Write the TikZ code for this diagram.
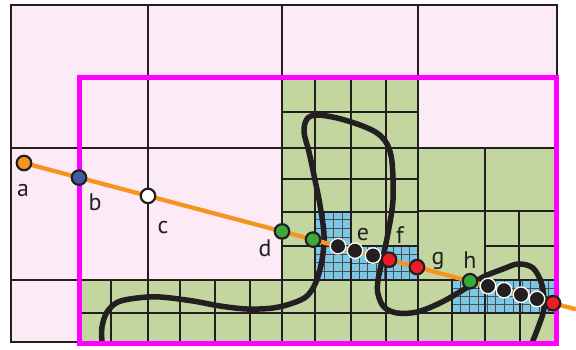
\documentclass[tikz,border=0pt]{standalone}
\usepackage{fontspec}
\setmainfont{PT Sans}
\definecolor{pinkc}{HTML}{FCEBF7}
\definecolor{greenc}{HTML}{C3D69F}
\definecolor{bluec}{HTML}{7CC8E4}
\definecolor{ink}{HTML}{231F20}
\definecolor{rayc}{HTML}{F7941D}
\definecolor{ptblue}{HTML}{3C5BA8}
\definecolor{ptgreen}{HTML}{3AAA3A}
\definecolor{ptred}{HTML}{ED1C24}
\definecolor{mag}{HTML}{FF00FF}
\begin{document}
\begin{tikzpicture}[x=1bp,y=-1bp,
  gridline/.style={draw=ink,line width=2.6bp},
  fineline/.style={draw=ink!80,line width=0.7bp},
  pt/.style={circle,draw=ink,line width=2.2bp,minimum size=14.5bp,inner sep=0pt},
  blackpt/.style={circle,fill=ink,draw=white,line width=1.3bp,minimum size=15.5bp,inner sep=0pt},
  lbl/.style={font=\fontsize{24}{24}\selectfont,text=ink,inner sep=0pt,anchor=base}]
\useasboundingbox (0,0) rectangle (576,349);
% fills
\fill[pinkc] (11,5) rectangle (557,342);
\fill[greenc] (282,77) rectangle (418,148);
\fill[greenc] (282,148) rectangle (557,280);
\fill[greenc] (79,280) rectangle (557,342);
\fill[bluec] (315,211) rectangle (351,280);
\fill[bluec] (351,246) rectangle (418,280);
\fill[bluec] (452,280) rectangle (557,313);
% fine grids
\foreach \i in {1,...,3} \draw[fineline] ({315+\i*9},211) -- ({315+\i*9},280);
\foreach \j in {1,...,7} \draw[fineline] (315,{211+\j*8.625}) -- (351,{211+\j*8.625});
\foreach \i in {1,...,7} \draw[fineline] ({351+\i*8.375},246) -- ({351+\i*8.375},280);
\foreach \j in {1,...,3} \draw[fineline] (351,{246+\j*8.5}) -- (418,{246+\j*8.5});
\foreach \i in {1,...,11} \draw[fineline] ({452+\i*8.75},280) -- ({452+\i*8.75},313);
\foreach \j in {1,...,3} \draw[fineline] (452,{280+\j*8.25}) -- (557,{280+\j*8.25});
% main grid
\draw[gridline] (11,5) rectangle (557,342);
\foreach \x in {148,282,418} \draw[gridline] (\x,5) -- (\x,342);
\foreach \y in {148,280} \draw[gridline] (11,\y) -- (557,\y);
\foreach \x in {315,351,386} \draw[gridline] (\x,75) -- (\x,280);
\foreach \y in {112,179,212,246} \draw[gridline] (282,\y) -- (418,\y);
\draw[gridline] (485,148) -- (485,280);
\draw[gridline] (418,211) -- (557,211);
\draw[gridline] (519,211) -- (519,280);
\draw[gridline] (485,246) -- (557,246);
\foreach \x in {111,180,215,250,315,351,386,452,485,520} \draw[gridline] (\x,280) -- (\x,342);
\draw[gridline] (79,313) -- (557,313);
% curve
\draw[ink,line width=5.5bp,line cap=round] plot[smooth,tension=0.55] coordinates {
 (102,343) (102,327) (107,312) (118,302) (137,298) (160,297) (193,301) (220,306)
 (247,309) (273,308) (293,303) (307,296) (316,282) (322,260) (324,235) (320,205)
 (315,180) (309,152) (304,132) (307,119) (317,115) (337,118) (360,125) (377,133)
 (387,144) (392,162) (393,200) (388,233) (383,257) (378,280) (378,294) (384,307)
 (397,313) (417,312) (440,303) (463,290) (483,277) (503,269) (518,264) (533,268)
 (542,285) (544,308) (539,325) (532,343)};
% magenta box
\draw[mag,line width=5bp] (79,77) rectangle (556,343);
% ray
\coordinate (raystart) at (24,163);
\coordinate (rayend) at (576,309.3);
\draw[rayc,line width=4.3bp] (raystart) -- (rayend);
\node[pt,fill=rayc] (a) at (24,163) {};
\node[pt,fill=ptblue] (b) at (79,177.6) {};
\node[pt,fill=white] (c) at (148,195.9) {};
\node[pt,fill=ptgreen] (d) at (282,231.4) {};
\node[pt,fill=ptgreen] (d2) at (313,239.6) {};
\node[blackpt] (k1) at (338,246.2) {};
\node[blackpt] (k2) at (355,250.7) {};
\node[blackpt] (k3) at (373,255.5) {};
\node[pt,fill=ptred] (f) at (389,259.7) {};
\node[pt,fill=ptred] (g) at (417,267.1) {};
\node[pt,fill=ptgreen] (h) at (470,281.2) {};
\node[blackpt] (k4) at (488,286) {};
\node[blackpt] (k5) at (504,290.2) {};
\node[blackpt] (k6) at (521,294.7) {};
\node[blackpt] (k7) at (537,299) {};
\node[pt,fill=ptred] (r3) at (553,303.2) {};
% labels
\node[lbl] (la) at (23,196.5) {a};
\node[lbl] (lb) at (95,210) {b};
\node[lbl] (lc) at (163,233) {c};
\node[lbl] (ld) at (265,256.5) {d};
\node[lbl] (le) at (363,240) {e};
\node[lbl] (lf) at (400,243) {f};
\node[lbl] (lg) at (438,264) {g};
\node[lbl] (lh) at (470,268) {h};
\end{tikzpicture}
\end{document}
